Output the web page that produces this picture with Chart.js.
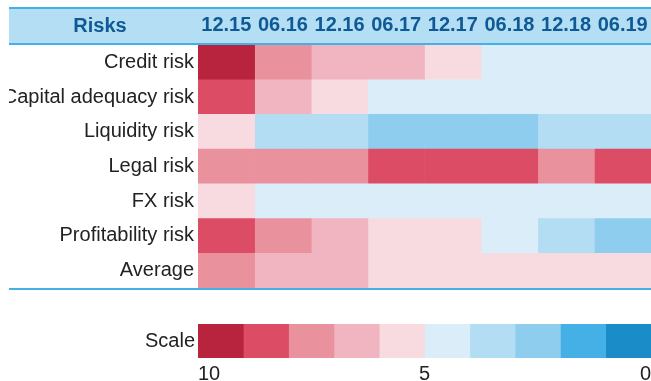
<!DOCTYPE html>
<html>
<head>
<meta charset="utf-8">
<script src="https://cdn.jsdelivr.net/npm/chart.js@4.4.1/dist/chart.umd.min.js"></script>
<style>
    html, body { margin: 0; padding: 0; background: #fff; }
    #wrap { position: relative; width: 651px; height: 381px; overflow: hidden; }
    #heat { position: absolute; left: 9px; top: 0; }
    #scale { position: absolute; left: 0; top: 300px; }
</style>
</head>
<body>
<div id="wrap">
    <canvas id="heat" width="642" height="300"></canvas>
    <canvas id="scale" width="651" height="81"></canvas>
</div>
<script>
// 기간 / 리스크 항목
const periods = ['12.15', '06.16', '12.16', '06.17', '12.17', '06.18', '12.18', '06.19'];
const risks = ['Credit risk', 'Capital adequacy risk', 'Liquidity risk', 'Legal risk', 'FX risk', 'Profitability risk', 'Average'];

// 리스크 수준 (10 = 가장 높음, 0 = 가장 낮음)
const creditRisk = [10, 8, 7, 7, 6, 5, 5, 5];
const capitalRisk = [9, 7, 6, 5, 5, 5, 5, 5];
const liquidityRisk = [6, 4, 4, 3, 3, 3, 4, 4];
const legalRisk = [8, 8, 8, 9, 9, 9, 8, 9];
const fxRisk = [6, 5, 5, 5, 5, 5, 5, 5];
const profitabilityRisk = [9, 8, 7, 6, 6, 5, 4, 3];
const averageRisk = [8, 7, 7, 6, 6, 6, 6, 6];

// 스케일
const scaleLevels = [10, 9, 8, 7, 6, 5, 4, 3, 2, 1];
const scaleTicks = [10, 5, 0];
const scaleColors = ['#b8233d', '#dc4c64', '#ea919e', '#f0b5c0', '#f8dbe0',
                     '#dbedf8', '#b3ddf3', '#8fcdee', '#45b0e5', '#1a8cc7'];

const rows = [creditRisk, capitalRisk, liquidityRisk, legalRisk, fxRisk, profitabilityRisk, averageRisk];

const headBlue = '#0f5a96';
const lineBlue = '#45b0e5';
const bandBlue = '#b4def3';
const labelFont = "'Liberation Sans', Arial, sans-serif";

function colorFor(v) {
    return scaleColors[10 - v];
}

// 헤더 밴드, 구분선, "Risks" 글자
const tableDecor = {
    id: 'tableDecor',
    beforeDraw(chart) {
        const ctx = chart.ctx;
        const w = chart.width;
        ctx.save();
        ctx.fillStyle = bandBlue;
        ctx.fillRect(0, 9, w, 34);
        ctx.fillStyle = lineBlue;
        ctx.fillRect(0, 7, w, 2);
        ctx.fillRect(0, 43, w, 2);
        ctx.restore();
    },
    afterDraw(chart) {
        const ctx = chart.ctx;
        ctx.save();
        ctx.fillStyle = lineBlue;
        ctx.fillRect(0, chart.chartArea.bottom, chart.width, 2);
        ctx.fillStyle = headBlue;
        ctx.font = 'bold 20px ' + labelFont;
        ctx.textAlign = 'center';
        ctx.textBaseline = 'middle';
        ctx.fillText('Risks', 91, 26);
        ctx.restore();
    }
};

function initHeatmap() {
    const ctx = document.getElementById('heat').getContext('2d');
    new Chart(ctx, {
        type: 'bar',
        data: {
            labels: risks,
            datasets: periods.map((p, i) => ({
                label: p,
                data: rows.map(() => [i, i + 1]),
                backgroundColor: rows.map(r => colorFor(r[i])),
                borderWidth: 0,
                barPercentage: 1,
                categoryPercentage: 1,
                grouped: false
            }))
        },
        options: {
            indexAxis: 'y',
            responsive: false,
            animation: false,
            layout: { padding: { bottom: 12 } },
            plugins: {
                legend: { display: false },
                tooltip: { enabled: false }
            },
            scales: {
                x: {
                    display: false,
                    min: 0,
                    max: periods.length
                },
                xTop: {
                    type: 'category',
                    position: 'top',
                    labels: periods,
                    offset: true,
                    grid: { display: false, drawTicks: false },
                    border: { display: false },
                    ticks: {
                        color: headBlue,
                        padding: 8,
                        maxRotation: 0,
                        autoSkip: false,
                        font: { family: labelFont, size: 20, weight: 'bold' }
                    },
                    afterFit(axis) {
                        axis.height = 45;
                        axis.paddingLeft = 0;
                        axis.paddingRight = 0;
                    }
                },
                y: {
                    grid: { display: false, drawTicks: false },
                    border: { display: false },
                    ticks: {
                        color: '#222',
                        padding: 4,
                        font: { family: labelFont, size: 20 }
                    },
                    afterFit(axis) {
                        axis.width = 189;
                        axis.paddingTop = 0;
                        axis.paddingBottom = 0;
                    }
                }
            }
        },
        plugins: [tableDecor]
    });
}

function initScale() {
    const ctx = document.getElementById('scale').getContext('2d');
    new Chart(ctx, {
        type: 'bar',
        data: {
            labels: ['Scale'],
            datasets: scaleLevels.map((v, i) => ({
                label: String(v),
                data: [[v, v - 1]],
                backgroundColor: scaleColors[i],
                borderWidth: 0,
                barPercentage: 1,
                categoryPercentage: 1,
                grouped: false
            }))
        },
        options: {
            indexAxis: 'y',
            responsive: false,
            animation: false,
            layout: { padding: { top: 24 } },
            plugins: {
                legend: { display: false },
                tooltip: { enabled: false }
            },
            scales: {
                x: {
                    min: 0,
                    max: 10,
                    reverse: true,
                    grid: { display: false, drawTicks: false },
                    border: { display: false },
                    afterBuildTicks(axis) {
                        axis.ticks = scaleTicks.slice().sort((a, b) => a - b).map(v => ({ value: v }));
                    },
                    ticks: {
                        color: '#222',
                        padding: 4,
                        align: 'inner',
                        maxRotation: 0,
                        font: { family: labelFont, size: 20 }
                    },
                    afterFit(axis) {
                        axis.height = 23;
                        axis.paddingLeft = 0;
                        axis.paddingRight = 0;
                    }
                },
                y: {
                    grid: { display: false, drawTicks: false },
                    border: { display: false },
                    ticks: {
                        color: '#222',
                        padding: 3,
                        font: { family: labelFont, size: 20 }
                    },
                    afterFit(axis) {
                        axis.width = 198;
                        axis.paddingTop = 0;
                        axis.paddingBottom = 0;
                    }
                }
            }
        }
    });
}

document.addEventListener('DOMContentLoaded', () => {
    initHeatmap();
    initScale();
});
</script>
</body>
</html>
